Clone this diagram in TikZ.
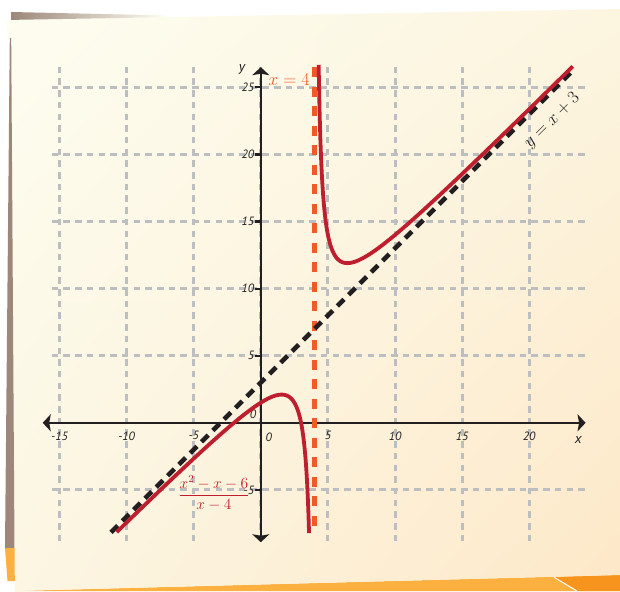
\RequirePackage{fix-cm}
\documentclass[tikz,border=0pt]{standalone}
\usepackage{fontspec}
\setsansfont{PT Sans}
\usetikzlibrary{arrows.meta,shadings}
\definecolor{brownc}{HTML}{9C877A}
\definecolor{lorange}{HTML}{FBB040}
\definecolor{dorange}{HTML}{F7941D}
\definecolor{curvered}{HTML}{BE1E2D}
\definecolor{asyorange}{HTML}{F05A28}
\definecolor{gridgrey}{HTML}{BCBEC0}
\definecolor{inkc}{HTML}{231F20}
\definecolor{sheetA}{HTML}{FDFDF0}
\definecolor{sheetB}{HTML}{FCF5E0}
\definecolor{sheetC}{HTML}{FCF6E3}
\definecolor{sheetD}{HTML}{FDE8C8}
\begin{document}
\begin{tikzpicture}[x=1pt,y=-1pt,
  gridline/.style={gridgrey, line width=3pt, dash pattern=on 6.5pt off 5.2pt},
  axisline/.style={inkc, line width=2.2pt},
  axisarrow/.style={axisline, -{Stealth[length=8pt,width=17pt,inset=1.5pt]}},
  curve/.style={curvered, line width=3.8pt},
  oblique/.style={inkc, line width=4.5pt, dash pattern=on 9.5pt off 6.5pt},
  vertasy/.style={asyorange, line width=4.3pt, dash pattern=on 10pt off 9.5pt},
  ticklab/.style={inkc, inner sep=0.5pt, font=\sffamily\itshape\fontsize{12}{14}\selectfont},
  axlab/.style={inkc, inner sep=0pt, font=\sffamily\itshape\fontsize{14}{16}\selectfont},
  mathlab/.style={inner sep=0pt, font=\fontsize{18}{22}\selectfont}]
\useasboundingbox (0,0) rectangle (620,591);
% bottom strips
\fill[lorange] (15,591) -- (620,575) -- (620,591) -- cycle;
\fill[dorange] (554,577.2) -- (620,575) -- (620,591) -- (577,591) -- cycle;
\draw[white, line width=1pt] (554,577.2) -- (577,591);
% main sheet
\shade[upper left=sheetA, upper right=sheetB, lower left=sheetC, lower right=sheetD]
  (7,20) -- (620,9) -- (620,575) -- (15,591) -- (10,40) -- (7,38) -- cycle;
% top brown strip
\shade[left color=brownc, right color=sheetA] (11,12) -- (165,15.4) -- (165,17.2) -- (11,19.9) -- cycle;
% left strips
\fill[brownc] (9.8,38) -- (11.2,38) -- (14.5,548) -- (5,548) -- cycle;
\fill[lorange] (5,548) -- (14.5,548) -- (14.8,581) -- (7.5,581) -- cycle;

\begin{scope}[shift={(260.8,422.8)}, x=13.42pt, y=13.42pt]
  % grid
  \foreach \gx in {-15,-10,...,20} \draw[gridline] (\gx,26.53) -- (\gx,-8.81);
  \foreach \gy in {25,20,...,5,-5} \draw[gridline] (-15.58,\gy) -- (24.16,\gy);
  % axes
  \coordinate (xl) at (-16.25,0);
  \coordinate (xr) at (24.2,0);
  \coordinate (yb) at (0,-8.9);
  \coordinate (yt) at (0,26.5);
  \draw[axisarrow] (0,0) -- (xr);
  \draw[axisarrow] (0,0) -- (xl);
  \draw[axisarrow] (0,0) -- (yt);
  \draw[axisarrow] (0,0) -- (yb);
  \foreach \ty in {25,20,...,5,-5} \draw[axisline] (-0.45,\ty) -- (0,\ty);
  % tick labels
  \foreach \tx/\nm in {-15/a,-10/b,-5/c,5/d,10/e,15/f,20/g}
    \node[ticklab] (xt\nm) at (\tx,-0.97) {\tx};
  \foreach \ty/\nm in {25/a,20/b,15/c,10/d,5/e,-5/f}
    \node[ticklab, anchor=east] (yt\nm) at (-0.45,\ty) {\ty};
  \node[ticklab] (xzero) at (0.6,-1.06) {0};
  \node[ticklab] (yzero) at (-0.58,0.6) {0};
  \node[axlab] (xname) at (23.66,-1.3) {x};
  \node[axlab] (yname) at (-1.4,26.35) {y};
  % asymptotes
  \draw[vertasy] (4,26.5) -- (4,-8.2);
  \draw[oblique] (-11.16,-8.16) -- (23.3,26.3);
  % curve
  \draw[curve] plot[domain=-10.74:3.595, samples=300] (\x,{\x+3+6/(\x-4)});
  \draw[curve] plot[domain=4.31:23.25, samples=300] (\x,{\x+3+6/(\x-4)});
  % labels
  \node[mathlab, text=asyorange] (vlab) at (2.1,25.58) {$x = 4$};
  \node[mathlab, text=inkc, rotate=45] (olab) at (21.71,22.5) {$y = x + 3$};
  \node[inner sep=0pt, text=curvered, font=\fontsize{15.5}{19}\selectfont] (flab) at (-3.49,-5.23)
    {$\displaystyle\frac{x^2 - x - 6}{x - 4}$};
\end{scope}
\end{tikzpicture}
\end{document}
